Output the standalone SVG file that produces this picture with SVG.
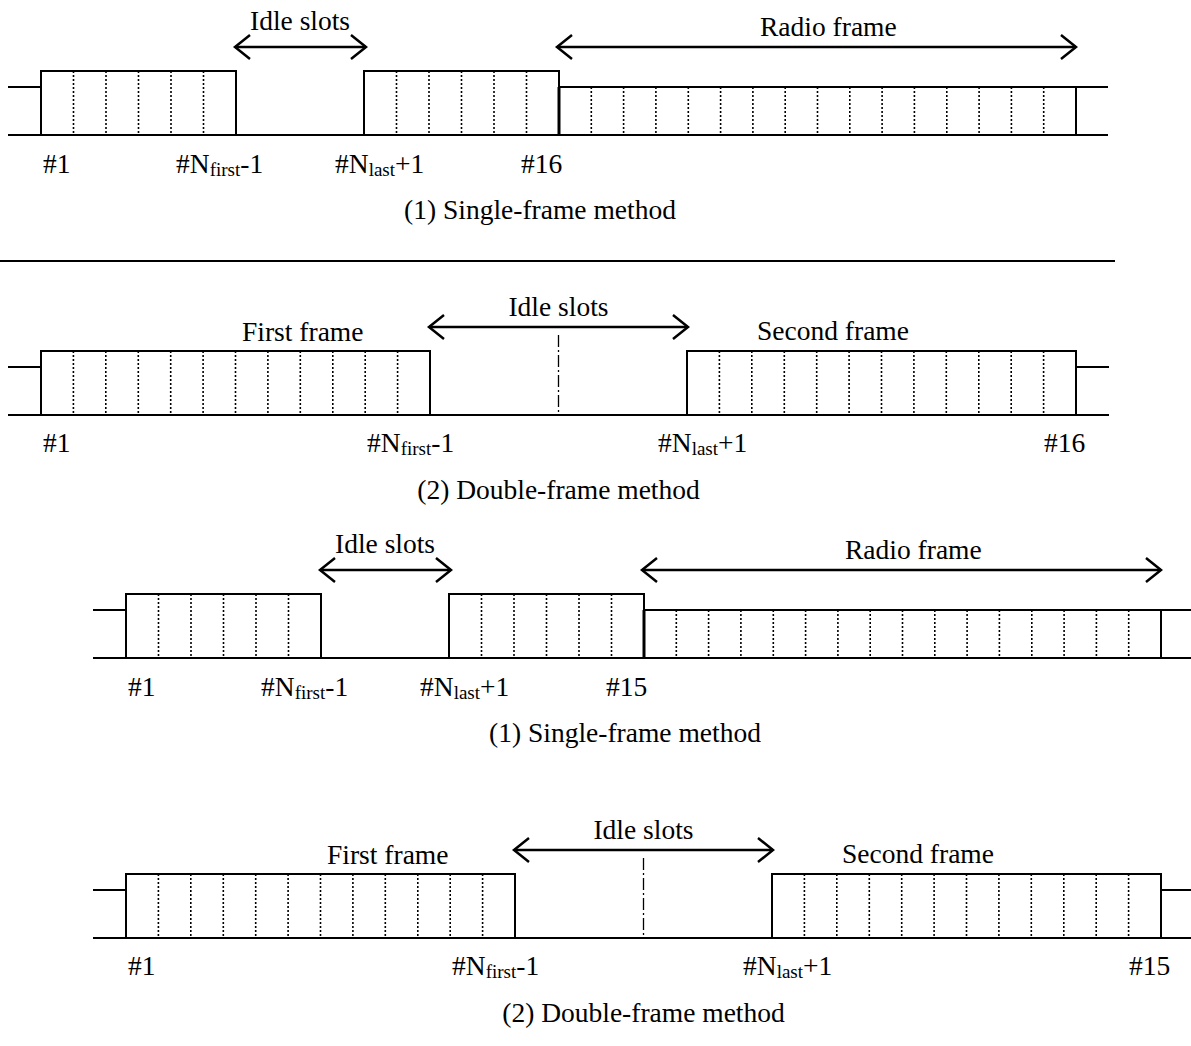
<svg xmlns="http://www.w3.org/2000/svg" width="1191" height="1046" viewBox="0 0 1191 1046">
<style>
.ln{fill:none;stroke:#000;stroke-width:2}
.thick{fill:none;stroke:#000;stroke-width:3}
.dot{fill:none;stroke:#000;stroke-width:1.6;stroke-dasharray:2 2}
.dd{fill:none;stroke:#000;stroke-width:1.3;stroke-dasharray:12 3 2 3}
.arr{fill:none;stroke:#000;stroke-width:2.5;marker-start:url(#chev);marker-end:url(#chev)}
text{font-family:"Liberation Serif","Times New Roman",serif;font-size:27.5px;fill:#000}
.sub{font-size:19px}
.mid{text-anchor:middle}
</style>
<defs>
<marker id="chev" viewBox="-18 -14 20 28" refX="0" refY="0" markerWidth="20" markerHeight="28" markerUnits="userSpaceOnUse" orient="auto-start-reverse" overflow="visible">
<path d="M-15,-12 L0,0 L-15,12" fill="none" stroke="#000" stroke-width="2.5"/>
</marker>
</defs>
<rect width="1191" height="1046" fill="#fff"/>

<!-- Section 1: single-frame, #16 -->
<g id="sec1">
  <g id="sec1-frames">
    <path class="ln" d="M8,87 H41 M8,135 H1108 M559,87 H1108 M1076,87 V135"/>
    <rect class="ln" x="41" y="71" width="195" height="64"/>
    <rect class="ln" x="364" y="71" width="195" height="64"/>
    <path class="thick" d="M559,87 V135"/>
    <path class="dot" d="M73.5,71V135M106,71V135M138.5,71V135M171,71V135M203.5,71V135"/>
    <path class="dot" d="M396.5,71V135M429,71V135M461.5,71V135M494,71V135M526.5,71V135"/>
    <path class="dot" d="M591.3,87V135M623.6,87V135M655.9,87V135M688.3,87V135M720.6,87V135M752.9,87V135M785.2,87V135M817.5,87V135M849.8,87V135M882.1,87V135M914.4,87V135M946.8,87V135M979.1,87V135M1011.4,87V135M1043.7,87V135"/>
  </g>
  <text x="250" y="30">Idle slots</text>
  <text x="760" y="36">Radio frame</text>
  <text x="43" y="173">#1</text>
  <text x="176" y="173">#N<tspan class="sub" dy="3">first</tspan><tspan dy="-3">-1</tspan></text>
  <text x="335" y="173">#N<tspan class="sub" dy="3">last</tspan><tspan dy="-3">+1</tspan></text>
  <text x="521" y="173">#16</text>
  <text class="mid" x="540" y="219">(1) Single-frame method</text>
</g>

<path id="separator" class="ln" d="M0,261 H1115"/>

<!-- Section 2: double-frame, #16 -->
<g id="sec2">
  <g id="sec2-frames">
    <path class="ln" d="M8,367 H41 M8,415 H1109 M1076,367 H1109"/>
    <rect class="ln" x="41" y="351" width="389" height="64"/>
    <rect class="ln" x="687" y="351" width="389" height="64"/>
    <path class="dd" d="M558.5,335 V415"/>
    <path class="dot" d="M73.4,351V415M105.8,351V415M138.3,351V415M170.7,351V415M203.1,351V415M235.5,351V415M267.9,351V415M300.3,351V415M332.8,351V415M365.2,351V415M397.6,351V415"/>
    <path class="dot" d="M719.4,351V415M751.8,351V415M784.3,351V415M816.7,351V415M849.1,351V415M881.5,351V415M913.9,351V415M946.3,351V415M978.8,351V415M1011.2,351V415M1043.6,351V415"/>
  </g>
  <text class="mid" x="558.5" y="316">Idle slots</text>
  <text x="242" y="341">First frame</text>
  <text x="757" y="340">Second frame</text>
  <text x="43" y="452">#1</text>
  <text x="367" y="452">#N<tspan class="sub" dy="3">first</tspan><tspan dy="-3">-1</tspan></text>
  <text x="658" y="452">#N<tspan class="sub" dy="3">last</tspan><tspan dy="-3">+1</tspan></text>
  <text x="1044" y="452">#16</text>
  <text class="mid" x="558.5" y="499">(2) Double-frame method</text>
</g>

<!-- Section 3: single-frame, #15 -->
<g id="sec3" transform="translate(85,523)">
  <g id="sec3-frames">
    <path class="ln" d="M8,87 H41 M8,135 H1110 M559,87 H1110 M1076,87 V135"/>
    <rect class="ln" x="41" y="71" width="195" height="64"/>
    <rect class="ln" x="364" y="71" width="195" height="64"/>
    <path class="thick" d="M559,87 V135"/>
    <path class="dot" d="M73.5,71V135M106,71V135M138.5,71V135M171,71V135M203.5,71V135"/>
    <path class="dot" d="M396.5,71V135M429,71V135M461.5,71V135M494,71V135M526.5,71V135"/>
    <path class="dot" d="M591.3,87V135M623.6,87V135M655.9,87V135M688.3,87V135M720.6,87V135M752.9,87V135M785.2,87V135M817.5,87V135M849.8,87V135M882.1,87V135M914.4,87V135M946.8,87V135M979.1,87V135M1011.4,87V135M1043.7,87V135"/>
  </g>
  <text x="250" y="30">Idle slots</text>
  <text x="760" y="36">Radio frame</text>
  <text x="43" y="173">#1</text>
  <text x="176" y="173">#N<tspan class="sub" dy="3">first</tspan><tspan dy="-3">-1</tspan></text>
  <text x="335" y="173">#N<tspan class="sub" dy="3">last</tspan><tspan dy="-3">+1</tspan></text>
  <text x="521" y="173">#15</text>
  <text class="mid" x="540" y="219">(1) Single-frame method</text>
</g>

<!-- Section 4: double-frame, #15 -->
<g id="sec4" transform="translate(85,523)">
  <g id="sec4-frames">
    <path class="ln" d="M8,367 H41 M8,415 H1110 M1076,367 H1110"/>
    <rect class="ln" x="41" y="351" width="389" height="64"/>
    <rect class="ln" x="687" y="351" width="389" height="64"/>
    <path class="dd" d="M558.5,335 V415"/>
    <path class="dot" d="M73.4,351V415M105.8,351V415M138.3,351V415M170.7,351V415M203.1,351V415M235.5,351V415M267.9,351V415M300.3,351V415M332.8,351V415M365.2,351V415M397.6,351V415"/>
    <path class="dot" d="M719.4,351V415M751.8,351V415M784.3,351V415M816.7,351V415M849.1,351V415M881.5,351V415M913.9,351V415M946.3,351V415M978.8,351V415M1011.2,351V415M1043.6,351V415"/>
  </g>
  <text class="mid" x="558.5" y="316">Idle slots</text>
  <text x="242" y="341">First frame</text>
  <text x="757" y="340">Second frame</text>
  <text x="43" y="452">#1</text>
  <text x="367" y="452">#N<tspan class="sub" dy="3">first</tspan><tspan dy="-3">-1</tspan></text>
  <text x="658" y="452">#N<tspan class="sub" dy="3">last</tspan><tspan dy="-3">+1</tspan></text>
  <text x="1044" y="452">#15</text>
  <text class="mid" x="558.5" y="499">(2) Double-frame method</text>
</g>

<!-- Connectors (span arrows) -->
<g id="connectors">
  <path class="arr" d="M235,47 H366"/>
  <path class="arr" d="M557,47 H1076"/>
  <path class="arr" d="M429,327 H688"/>
  <path class="arr" d="M320,570 H451"/>
  <path class="arr" d="M642,570 H1161"/>
  <path class="arr" d="M514,850 H773"/>
</g>
</svg>
